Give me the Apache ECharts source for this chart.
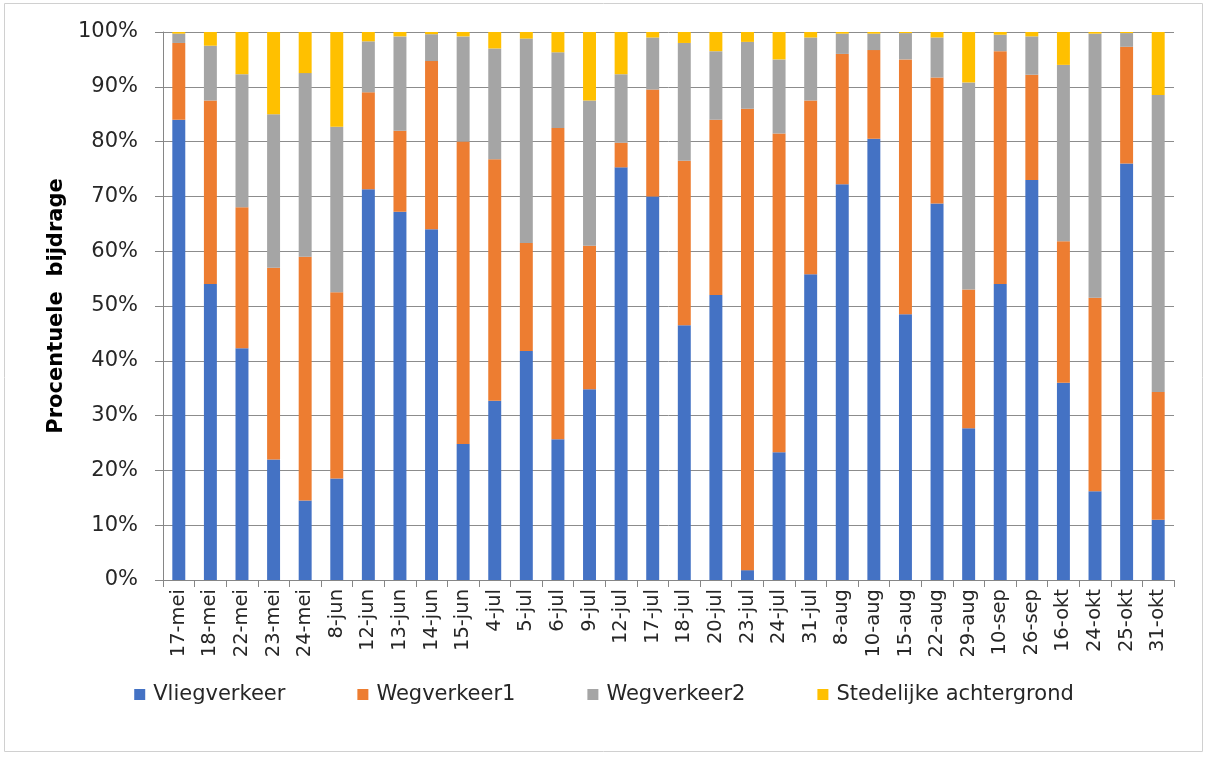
<!DOCTYPE html>
<html>
<head>
<meta charset="utf-8">
<script src="https://cdn.jsdelivr.net/npm/echarts@6/dist/echarts.min.js"></script>
<style>
  html, body { margin: 0; padding: 0; background: #fff; }
  #chart { width: 1208px; height: 758px; }
</style>
</head>
<body>
<div id="chart"></div>
<script>
var dates = ['17-mei', '18-mei', '22-mei', '23-mei', '24-mei', '8-jun', '12-jun', '13-jun', '14-jun', '15-jun',
    '4-jul', '5-jul', '6-jul', '9-jul', '12-jul', '17-jul', '18-jul', '20-jul', '23-jul', '24-jul', '31-jul',
    '8-aug', '10-aug', '15-aug', '22-aug', '29-aug', '10-sep', '26-sep', '16-okt', '24-okt', '25-okt', '31-okt'];

// procentuele bijdrage per bron
var vliegverkeer = [84, 54, 42.3, 22, 14.5, 18.5, 71.3, 67.2, 64, 24.8,
    32.7, 41.8, 25.7, 34.8, 75.3, 70, 46.5, 52, 1.8, 23.3, 55.8,
    72.2, 80.5, 48.5, 68.7, 27.7, 54, 73, 36, 16.2, 76, 11];
var wegverkeer1 = [14, 33.5, 25.7, 35, 44.5, 34, 17.7, 14.8, 30.7, 55.2,
    44.1, 19.7, 56.8, 26.2, 4.5, 19.5, 30, 32, 84.2, 58.2, 31.7,
    23.8, 16.2, 46.5, 23, 25.3, 42.5, 19.2, 25.8, 35.3, 21.3, 23.3];
var wegverkeer2 = [1.7, 10, 24.3, 28, 33.5, 30.2, 9.3, 17.2, 4.9, 19.2,
    20.2, 37.3, 13.8, 26.5, 12.5, 9.5, 21.5, 12.5, 12.2, 13.5, 11.5,
    3.7, 3, 4.8, 7.3, 37.8, 3, 7, 32.2, 48.2, 2.5, 54.2];
var stedelijk = [0.3, 2.5, 7.7, 15, 7.5, 17.3, 1.7, 0.8, 0.4, 0.8,
    3, 1.2, 3.7, 12.5, 7.7, 1, 2, 3.5, 1.8, 5, 1,
    0.3, 0.3, 0.2, 1, 9.2, 0.5, 0.8, 6, 0.3, 0.2, 11.5];

var fontFam = 'DejaVu Sans';
var textCol = '#262626';

var chart = echarts.init(document.getElementById('chart'));

function bar(name, data, color) {
    return {
        name: name,
        type: 'bar',
        stack: 'totaal',
        barWidth: '41%',
        itemStyle: {color: color},
        data: data
    };
}

chart.setOption({
    animation: false,
    textStyle: {fontFamily: fontFam},
    grid: {left: 163, right: 34, top: 32, bottom: 178},
    graphic: [{
        type: 'rect',
        shape: {x: 4.5, y: 3.5, width: 1198, height: 748},
        style: {fill: 'none', stroke: '#d0d0d0', lineWidth: 1}
    }],
    legend: {
        top: 679,
        left: 'center',
        icon: 'rect',
        itemWidth: 11,
        itemHeight: 11,
        itemGap: 72,
        textStyle: {fontSize: 21, color: textCol, fontFamily: fontFam, padding: [0, 0, 0, 3]}
    },
    xAxis: {
        type: 'category',
        data: dates,
        axisLine: {lineStyle: {color: '#868686'}},
        axisTick: {show: true, interval: 0, length: 7, lineStyle: {color: '#868686'}},
        axisLabel: {interval: 0, rotate: 90, fontSize: 19.5, color: textCol, margin: 9}
    },
    yAxis: {
        type: 'value',
        min: 0,
        max: 100,
        interval: 10,
        name: 'Procentuele  bijdrage',
        nameLocation: 'middle',
        nameGap: 90,
        nameTextStyle: {fontSize: 21, fontWeight: 'bold', color: '#000'},
        axisLine: {show: true, lineStyle: {color: '#868686'}},
        axisTick: {show: true, length: 8, lineStyle: {color: '#868686'}},
        splitLine: {lineStyle: {color: '#8c8c8c'}},
        axisLabel: {formatter: '{value}%', fontSize: 21, color: textCol, margin: 25}
    },
    series: [
        bar('Vliegverkeer', vliegverkeer, '#4472C4'),
        bar('Wegverkeer1', wegverkeer1, '#ED7D31'),
        bar('Wegverkeer2', wegverkeer2, '#A5A5A5'),
        bar('Stedelijke achtergrond', stedelijk, '#FFC000')
    ]
});
</script>
</body>
</html>
